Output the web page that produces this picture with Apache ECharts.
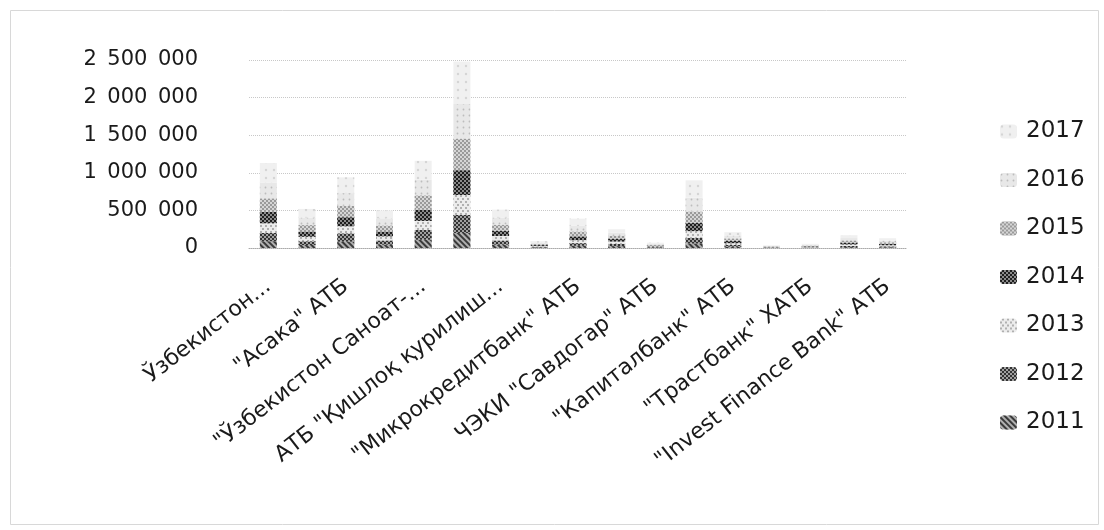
<!DOCTYPE html>
<html>
<head>
<meta charset="utf-8">
<script src="https://cdn.jsdelivr.net/npm/echarts@6/dist/echarts.min.js"></script>
<style>
html,body{margin:0;padding:0;background:#fff;}
#chart{width:1104px;height:530px;}
</style>
</head>
<body>
<div id="chart"></div>
<script>
// ---- data ----
var categories = [
  'Ўзбекистон...',
  '"Ипотека-банк" АТИБ',
  '"Асака" АТБ',
  '"Агробанк" АТБ',
  '"Ўзбекистон Саноат-...',
  '"Халқ банки" АТБ',
  'АТБ "Қишлоқ қурилиш...',
  '"Алоқабанк" АТБ',
  '"Микрокредитбанк" АТБ',
  '"Ҳамкорбанк" АТБ',
  'ЧЭКИ "Савдогар" АТБ',
  '"Ипак Йўли" АИТБ',
  '"Капиталбанк" АТБ',
  '"Туронбанк" АТБ',
  '"Трастбанк" ХАТБ',
  '"Ориент Финанс" ХАТБ',
  '"Invest Finance Bank" АТБ'
];
var years = ['2011','2012','2013','2014','2015','2016','2017'];
var v2011 = [ 90000, 40000,  85000, 45000, 110000, 200000, 45000,  8000, 30000, 25000,  6000,  60000, 18000, 3000, 4000, 12000, 10000];
var v2012 = [110000, 50000, 110000, 55000, 130000, 240000, 55000, 10000, 35000, 30000,  8000,  75000, 22000, 4000, 5000, 16000, 12000];
var v2013 = [130000, 60000,  95000, 55000, 120000, 265000, 60000, 11000, 40000, 32000,  9000,  90000, 25000, 4000, 6000, 20000, 15000];
var v2014 = [150000, 70000, 120000, 65000, 150000, 330000, 70000, 13000, 50000, 35000, 10000, 110000, 30000, 5000, 8000, 24000, 18000];
var v2015 = [180000, 85000, 150000, 80000, 190000, 420000, 80000, 14000, 65000, 38000, 11000, 150000, 33000, 5000, 9000, 28000, 21000];
var v2016 = [210000,100000, 170000, 95000, 210000, 460000, 95000, 16000, 75000, 42000, 12000, 185000, 37000, 6000,10000, 32000, 24000];
var v2017 = [260000,115000, 210000,105000, 250000, 565000,105000, 18000, 95000, 48000, 14000, 230000, 45000, 8000,13000, 38000, 30000];
var yTickValues = [0, 500000, 1000000, 1500000, 2000000, 2500000];
var yTickLabels = ['0', '500\u2002000', '1\u2002000\u2002000', '1\u2002500\u2002000', '2\u2002000\u2002000', '2\u2002500\u2002000'];

// ---- styles ----
var seriesValues = [v2011, v2012, v2013, v2014, v2015, v2016, v2017];
var fills = ['#b0b0b0', '#a0a0a0', '#ececec', '#8a8a8a', '#d6d6d6', '#e8e8e8', '#f0f0f0'];
var decals = [
  {symbol:'rect', symbolSize:1, dashArrayX:[1,0], dashArrayY:[2,2], rotation:Math.PI/4, color:'#3a3a3a'},
  {symbol:'rect', symbolSize:1, dashArrayX:[[2,2],[0,2,2,0]], dashArrayY:[2,0], color:'#333'},
  {symbol:'rect', symbolSize:1, dashArrayX:[[2,3],[0,2,2,1]], dashArrayY:[2,1], color:'#b0b0b0'},
  {symbol:'rect', symbolSize:1, dashArrayX:[[2,2],[0,2,2,0]], dashArrayY:[2,0], color:'#1e1e1e'},
  {symbol:'rect', symbolSize:1, dashArrayX:[[2,2],[0,2,2,0]], dashArrayY:[2,0], color:'#9a9a9a'},
  {symbol:'circle', symbolSize:0.6, dashArrayX:[3,3], dashArrayY:[3,3], color:'#bdbdbd'},
  {symbol:'circle', symbolSize:0.6, dashArrayX:[4,4], dashArrayY:[4,4], color:'#d4d4d4'}
];

var series = years.map(function (y, i) {
  return {
    name: y,
    type: 'bar',
    stack: 'total',
    barWidth: 17,
    data: seriesValues[i],
    itemStyle: { color: fills[i], decal: decals[i] }
  };
});

var chart = echarts.init(document.getElementById('chart'), null, {renderer: 'canvas'});
chart.setOption({
  animation: false,
  backgroundColor: '#fff',
  graphic: [{
    type: 'rect', left: 8, top: 8, shape: {width: 1088, height: 514},
    style: {fill: 'none', stroke: '#d8d8d8', lineWidth: 1}
  }],
  grid: { left: 249, top: 60, width: 658, height: 188 },
  legend: {
    orient: 'vertical',
    left: 995,
    top: 115,
    itemWidth: 17,
    itemHeight: 14,
    itemGap: 25.5,
    data: years.slice().reverse(),
    textStyle: { fontFamily: 'DejaVu Sans', fontSize: 23, color: '#1a1a1a', padding: [0,0,0,4] }
  },
  xAxis: {
    type: 'category',
    data: categories,
    axisLine: { show: true, lineStyle: { color: '#aaa', type: 'dotted' } },
    axisTick: { show: false },
    axisLabel: {
      interval: 1,
      rotate: 38,
      margin: 36,
      fontFamily: 'DejaVu Sans',
      fontSize: 22,
      color: '#1a1a1a'
    }
  },
  yAxis: {
    type: 'value',
    min: 0,
    max: 2500000,
    interval: 500000,
    axisLine: { show: false },
    axisTick: { show: false },
    splitLine: { lineStyle: { color: '#c8c8c8', type: 'dotted' } },
    axisLabel: {
      margin: 51,
      fontFamily: 'DejaVu Sans',
      fontSize: 21,
      color: '#1a1a1a',
      formatter: function (v) { var k = yTickValues.indexOf(v); return k >= 0 ? yTickLabels[k] : ''; }
    }
  },
  series: series
});
</script>
</body>
</html>
